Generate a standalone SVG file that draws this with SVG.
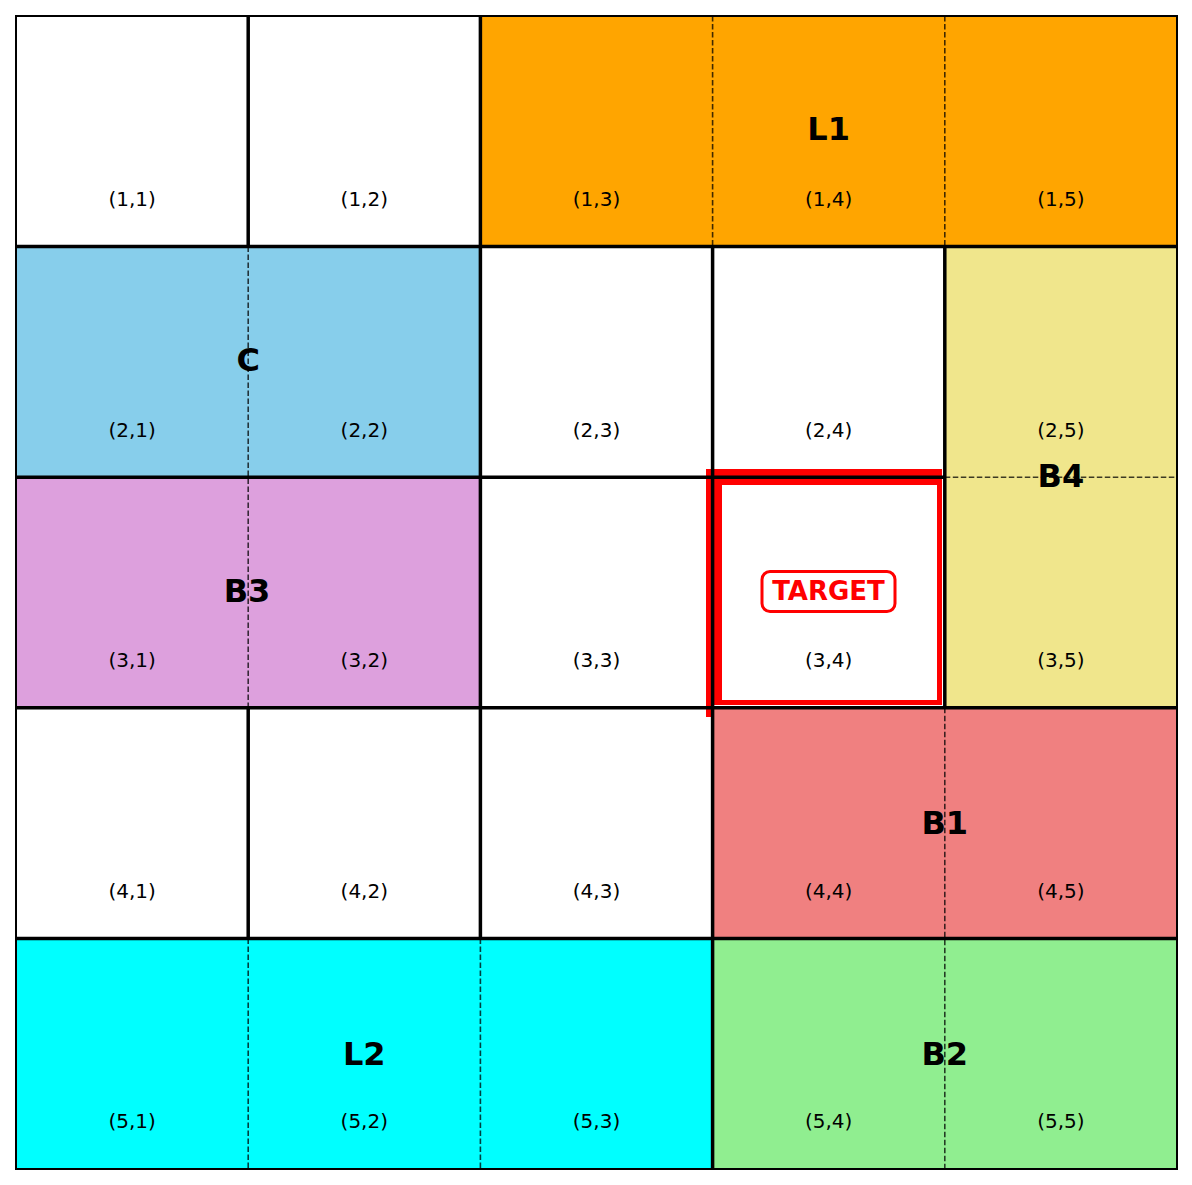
<svg xmlns="http://www.w3.org/2000/svg" width="1192" height="1185" viewBox="0 0 1192 1185">
<style>
.coord{font-family:"DejaVu Sans","Liberation Sans",sans-serif;font-size:20px;fill:#000;text-anchor:middle}
.reg{font-family:"DejaVu Sans","Liberation Sans",sans-serif;font-size:32px;font-weight:bold;fill:#000;text-anchor:middle}
.thick{stroke:#000;stroke-width:3.5;fill:none}
.dash{stroke:#000;stroke-opacity:0.75;stroke-width:1.6;stroke-dasharray:5.5 2.5;fill:none}
</style>
<rect width="1192" height="1185" fill="#fff"/>
<g id="cells">
<rect x="16" y="16" width="232.2" height="230.6" fill="#fff"/>
<rect x="248.2" y="16" width="232.2" height="230.6" fill="#fff"/>
<g id="L1"><rect x="480.4" y="16" width="696.6" height="230.6" fill="#FFA500"/></g>
<g id="C"><rect x="16" y="246.6" width="464.4" height="230.6" fill="#87CEEB"/></g>
<g id="B3"><rect x="16" y="477.2" width="464.4" height="230.6" fill="#DDA0DD"/></g>
<g id="B4"><rect x="944.8" y="246.6" width="232.2" height="461.2" fill="#F0E68C"/></g>
<g id="B1"><rect x="712.6" y="707.8" width="464.4" height="230.6" fill="#F08080"/></g>
<g id="L2"><rect x="16" y="938.4" width="696.6" height="230.6" fill="#00FFFF"/></g>
<g id="B2"><rect x="712.6" y="938.4" width="464.4" height="230.6" fill="#90EE90"/></g>
</g>
<g id="target">
<path d="M706 469H942V705H706Z M722 485V700H937V485Z" fill="#FF0000" fill-rule="evenodd"/>
<rect x="706" y="700" width="7.5" height="17" fill="#FF0000"/>
</g>
<g id="connectors">
<path class="dash" d="M712.6 16V246.6 M944.8 16V246.6 M248.2 246.6V707.8 M944.8 477.2H1177 M944.8 707.8V1169 M248.2 938.4V1169 M480.4 938.4V1169"/>
<path class="thick" d="M16 246.6H1177 M16 477.2H944.8 M16 707.8H1177 M16 938.4H1177 M248.2 16V246.6 M248.2 707.8V938.4 M480.4 16V938.4 M712.6 246.6V1169 M944.8 246.6V707.8"/>
<rect x="16" y="16" width="1161" height="1153" fill="none" stroke="#000" stroke-width="2"/>
</g>
<g id="labels">
<text class="coord" x="132.1" y="206">(1,1)</text>
<text class="coord" x="364.3" y="206">(1,2)</text>
<text class="coord" x="596.5" y="206">(1,3)</text>
<text class="coord" x="828.7" y="206">(1,4)</text>
<text class="coord" x="1060.9" y="206">(1,5)</text>
<text class="coord" x="132.1" y="436.6">(2,1)</text>
<text class="coord" x="364.3" y="436.6">(2,2)</text>
<text class="coord" x="596.5" y="436.6">(2,3)</text>
<text class="coord" x="828.7" y="436.6">(2,4)</text>
<text class="coord" x="1060.9" y="436.6">(2,5)</text>
<text class="coord" x="132.1" y="667.2">(3,1)</text>
<text class="coord" x="364.3" y="667.2">(3,2)</text>
<text class="coord" x="596.5" y="667.2">(3,3)</text>
<text class="coord" x="828.7" y="667.2">(3,4)</text>
<text class="coord" x="1060.9" y="667.2">(3,5)</text>
<text class="coord" x="132.1" y="897.8">(4,1)</text>
<text class="coord" x="364.3" y="897.8">(4,2)</text>
<text class="coord" x="596.5" y="897.8">(4,3)</text>
<text class="coord" x="828.7" y="897.8">(4,4)</text>
<text class="coord" x="1060.9" y="897.8">(4,5)</text>
<text class="coord" x="132.1" y="1128.4">(5,1)</text>
<text class="coord" x="364.3" y="1128.4">(5,2)</text>
<text class="coord" x="596.5" y="1128.4">(5,3)</text>
<text class="coord" x="828.7" y="1128.4">(5,4)</text>
<text class="coord" x="1060.9" y="1128.4">(5,5)</text>
<text class="reg" x="828.7" y="140">L1</text>
<text class="reg" x="248.2" y="371">C</text>
<text class="reg" x="247" y="602">B3</text>
<text class="reg" x="1060.9" y="487">B4</text>
<text class="reg" x="944.8" y="834">B1</text>
<text class="reg" x="364.3" y="1065">L2</text>
<text class="reg" x="944.8" y="1065">B2</text>
<rect x="762" y="571.5" width="133" height="40" rx="8" fill="#fff" stroke="#FF0000" stroke-width="3"/>
<text x="828.5" y="600" font-family="DejaVu Sans, Liberation Sans, sans-serif" font-size="26" font-weight="bold" fill="#FF0000" text-anchor="middle">TARGET</text>
</g>
</svg>
